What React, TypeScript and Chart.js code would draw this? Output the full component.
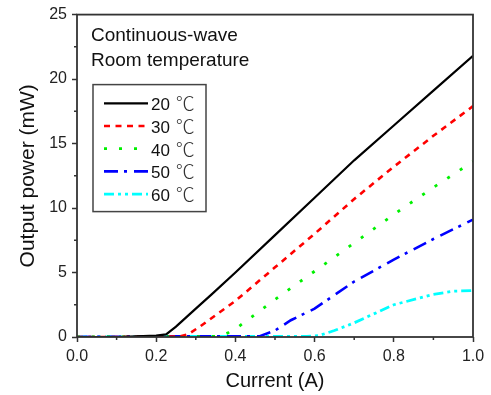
import React, { useEffect, useRef } from 'react';
import { Chart, registerables } from 'chart.js';

Chart.register(...registerables);

const seriesLabels = ['20 ℃', '30 ℃', '40 ℃', '50 ℃', '60 ℃'];
const seriesColors = ['#000000', '#ff0000', '#00f000', '#0000ff', '#00ffff'];

const current20 = [0, 0.1, 0.15, 0.2, 0.225, 0.25, 0.3, 0.34, 0.4, 0.5, 0.6, 0.7, 0.8, 0.9, 1.0];
const power20 = [0, 0, 0.05, 0.1, 0.2, 0.8, 2.2, 3.3, 5.0, 7.9, 10.8, 13.7, 16.4, 19.1, 21.8];

const current30 = [0, 0.1, 0.2, 0.26, 0.28, 0.31, 0.4, 0.5, 0.6, 0.7, 0.8, 0.9, 1.0];
const power30 = [0, 0, 0.02, 0.05, 0.2, 0.8, 2.8, 5.4, 8.0, 10.7, 13.2, 15.6, 17.9];

const current40 = [0, 0.1, 0.2, 0.3, 0.36, 0.38, 0.41, 0.5, 0.6, 0.7, 0.8, 0.9, 1.0];
const power40 = [0, 0, 0.02, 0.03, 0.05, 0.3, 0.85, 2.9, 5.1, 7.3, 9.5, 11.6, 13.6];

const current50 = [0, 0.1, 0.2, 0.3, 0.4, 0.46, 0.5, 0.54, 0.6, 0.7, 0.8, 0.9, 1.0];
const power50 = [0, 0.02, 0.05, 0.05, 0.05, 0.05, 0.5, 1.3, 2.2, 4.3, 6.0, 7.6, 9.1];

const current60 = [0, 0.1, 0.2, 0.3, 0.4, 0.5, 0.58, 0.61, 0.65, 0.7, 0.8, 0.9, 0.95, 1.0];
const power60 = [0, 0, 0.02, 0.05, 0.05, 0.05, 0.05, 0.1, 0.5, 1.1, 2.5, 3.3, 3.55, 3.6];

const seriesCurrents = [current20, current30, current40, current50, current60];
const seriesPowers = [power20, power30, power40, power50, power60];
const seriesDashes: number[][] = [[], [6, 5.5], [3, 12], [14, 6, 3, 7], [10, 4, 3, 4, 3, 4]];
const seriesWidths = [2.2, 2.6, 2.8, 2.6, 2.8];

const xMajorTicks = [0, 0.2, 0.4, 0.6, 0.8, 1.0];
const xMinorTicks = [0.1, 0.3, 0.5, 0.7, 0.9];
const yMajorTicks = [0, 5, 10, 15, 20, 25];
const yMinorTicks = [2.5, 7.5, 12.5, 17.5, 22.5];

const annotationLines = ['Continuous-wave', 'Room temperature'];

const FONT = "'Liberation Sans', Arial, sans-serif";
const CJK_FONT = "'Noto Sans CJK SC', 'Noto Sans CJK JP', sans-serif";
const AXIS = '#333333';

const framePlugin = {
  id: 'frame',
  afterDraw(chart: any) {
    const { ctx, chartArea } = chart;
    const xs = chart.scales.x;
    const ys = chart.scales.y;
    ctx.save();
    // minor ticks
    ctx.strokeStyle = AXIS;
    ctx.lineWidth = 1.5;
    ctx.beginPath();
    xMinorTicks.forEach((v) => {
      const px = xs.getPixelForValue(v);
      ctx.moveTo(px, chartArea.bottom);
      ctx.lineTo(px, chartArea.bottom + 3);
    });
    yMinorTicks.forEach((v) => {
      const py = ys.getPixelForValue(v);
      ctx.moveTo(chartArea.left, py);
      ctx.lineTo(chartArea.left - 3, py);
    });
    ctx.stroke();
    // frame
    ctx.lineWidth = 1.8;
    ctx.strokeRect(chartArea.left, chartArea.top, chartArea.right - chartArea.left, chartArea.bottom - chartArea.top);

    // annotation
    ctx.fillStyle = '#111111';
    ctx.font = `19px ${FONT}`;
    ctx.textBaseline = 'alphabetic';
    ctx.textAlign = 'left';
    annotationLines.forEach((t, i) => {
      ctx.fillText(t, chartArea.left + 14, chartArea.top + 26 + i * 25);
    });

    // legend
    const bx = chartArea.left + 16;
    const by = chartArea.top + 70;
    const bw = 113;
    const bh = 127;
    ctx.fillStyle = '#ffffff';
    ctx.fillRect(bx, by, bw, bh);
    ctx.strokeStyle = '#444444';
    ctx.lineWidth = 1.5;
    ctx.strokeRect(bx, by, bw, bh);
    chart.data.datasets.forEach((ds: any, i: number) => {
      const y = by + 18.7 + i * 22.7;
      ctx.save();
      ctx.strokeStyle = ds.borderColor;
      ctx.lineWidth = ds.borderWidth;
      ctx.setLineDash(ds.borderDash || []);
      ctx.beginPath();
      ctx.moveTo(bx + 11, y);
      ctx.lineTo(bx + 55, y);
      ctx.stroke();
      ctx.restore();
      const [num, unit] = String(ds.label).split(' ');
      ctx.fillStyle = '#111111';
      ctx.textBaseline = 'alphabetic';
      ctx.font = `17px ${FONT}`;
      const tx = bx + 58;
      const base = y + 7;
      ctx.fillText(num, tx, base);
      const w = ctx.measureText(num + ' ').width;
      ctx.font = `300 19px ${CJK_FONT}`;
      ctx.fillStyle = '#333333';
      ctx.fillText(unit || '', tx + w + 1, base + 1);
    });
    ctx.restore();
  },
};

export default function App() {
  const ref = useRef<HTMLCanvasElement | null>(null);
  useEffect(() => {
    document.body.style.margin = '0';
    const canvas = ref.current;
    if (!canvas) return;
    const chart = new Chart(canvas, {
      type: 'line',
      data: {
        datasets: seriesLabels.map((label, i) => ({
          label,
          data: seriesCurrents[i].map((x, j) => ({ x, y: seriesPowers[i][j] })),
          borderColor: seriesColors[i],
          borderWidth: seriesWidths[i],
          borderDash: seriesDashes[i],
          pointRadius: 0,
          tension: 0,
          fill: false,
        })),
      },
      options: {
        responsive: false,
        animation: false,
        devicePixelRatio: 1,
        layout: { padding: { left: 0, top: 14, right: 18, bottom: 0 } },
        plugins: { legend: { display: false }, tooltip: { enabled: false } },
        scales: {
          x: {
            type: 'linear',
            min: 0,
            max: 1,
            afterFit: (s: any) => { s.height = 58; },
            afterBuildTicks: (s: any) => { s.ticks = xMajorTicks.map((v) => ({ value: v })); },
            ticks: {
              callback: (v: any) => Number(v).toFixed(1),
              font: { family: FONT, size: 16 },
              color: '#222222',
              padding: 5,
              maxRotation: 0,
            },
            grid: { display: true, drawOnChartArea: false, drawTicks: true, tickLength: 5, tickColor: AXIS, tickWidth: 1.5 },
            border: { display: false },
            title: {
              display: true,
              text: 'Current (A)',
              font: { family: FONT, size: 20 },
              color: '#111111',
              padding: { top: 0, bottom: 2 },
            },
          },
          y: {
            type: 'linear',
            min: 0,
            max: 25,
            afterFit: (s: any) => { s.width = 77; },
            afterBuildTicks: (s: any) => { s.ticks = yMajorTicks.map((v) => ({ value: v })); },
            ticks: {
              callback: (v: any) => String(v),
              font: { family: FONT, size: 16 },
              color: '#222222',
              padding: 5,
            },
            grid: { display: true, drawOnChartArea: false, drawTicks: true, tickLength: 5, tickColor: AXIS, tickWidth: 1.5 },
            border: { display: false },
            title: {
              display: true,
              text: 'Output power (mW)',
              font: { family: FONT, size: 21 },
              color: '#111111',
              padding: { top: 16, bottom: 0 },
            },
          },
        },
      },
      plugins: [framePlugin],
    });
    return () => chart.destroy();
  }, []);
  return <canvas ref={ref} width={491} height={395} style={{ display: 'block', width: 491, height: 395 }} />;
}
